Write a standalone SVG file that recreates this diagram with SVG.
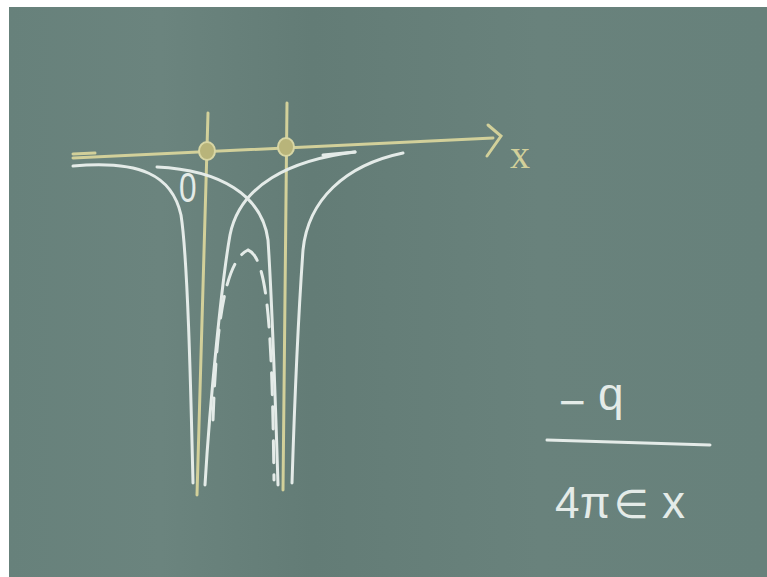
<svg xmlns="http://www.w3.org/2000/svg" width="767" height="577" viewBox="0 0 767 577">
<defs>
<linearGradient id="bg" x1="0" y1="0" x2="1" y2="0">
<stop offset="0" stop-color="#67817b"/>
<stop offset="0.2" stop-color="#6b847e"/>
<stop offset="0.4" stop-color="#637c76"/>
<stop offset="0.7" stop-color="#69827c"/>
<stop offset="1" stop-color="#67817b"/>
</linearGradient>
<style>
.chalk{fill:none;stroke:#e4ebe8;stroke-width:3;stroke-linecap:round;stroke-linejoin:round}
.yel{fill:none;stroke:#d2d09a;stroke-width:3;stroke-linecap:round}
.dash{fill:none;stroke:#e4ebe8;stroke-width:3;stroke-linecap:round;stroke-dasharray:22 12}
.txt{fill:#e4ebe8;font-family:"Liberation Sans","DejaVu Sans",sans-serif}
.dot{fill:#b8b47a;stroke:#d8d6a4;stroke-width:2}
</style>
</defs>
<rect x="0" y="0" width="767" height="577" fill="#ffffff"/>
<rect x="9" y="7" width="758" height="570" fill="url(#bg)"/>
<g id="axis">
<path class="yel" d="M73,158 L493,138"/>
<path class="yel" d="M73,154 L95,153"/>
<path class="yel" d="M488,125 L501,136 L487,156"/>
<text x="510" y="168" font-size="40" fill="#d2d09a" style="font-family:'Liberation Serif',serif">x</text>
</g>
<g id="verticals">
<path class="yel" d="M208,113 L197,495"/>
<path class="yel" d="M287,103 L283,490"/>
<ellipse class="dot" cx="207" cy="151" rx="8" ry="9"/>
<ellipse class="dot" cx="286" cy="147" rx="8" ry="9"/>
</g>
<g id="curves">
<path class="chalk" d="M73,166 C140,160 172,175 181,215 C188,260 191,400 193,483"/>
<path class="chalk" d="M157,167 C220,170 262,195 268,240 C272,300 276,420 278,485"/>
<path class="chalk" d="M355,152 C290,160 240,185 230,235 C222,280 210,400 205,485"/>
<path class="chalk" d="M323,155 L355,152"/>
<path class="chalk" d="M403,153 C345,165 308,200 303,250 C298,320 294,420 292,483"/>
<path class="dash" d="M213,420 C216,340 222,262 248,250 C268,258 272,330 274,480"/>
<text class="txt" transform="translate(179,202) scale(0.75,1)" font-size="42">0</text>
</g>
<g id="formula">
<text class="txt" x="559" y="418" font-size="46">−</text>
<text class="txt" x="598" y="410" font-size="46">q</text>
<path class="chalk" d="M547,440 L710,445"/>
<text class="txt" x="555" y="518" font-size="44">4</text>
<text class="txt" x="580" y="518" font-size="44">π</text>
<text class="txt" x="614" y="518" font-size="40" style="font-family:'DejaVu Sans',sans-serif">∈</text>
<text class="txt" x="662" y="518" font-size="46">x</text>
</g>
</svg>
